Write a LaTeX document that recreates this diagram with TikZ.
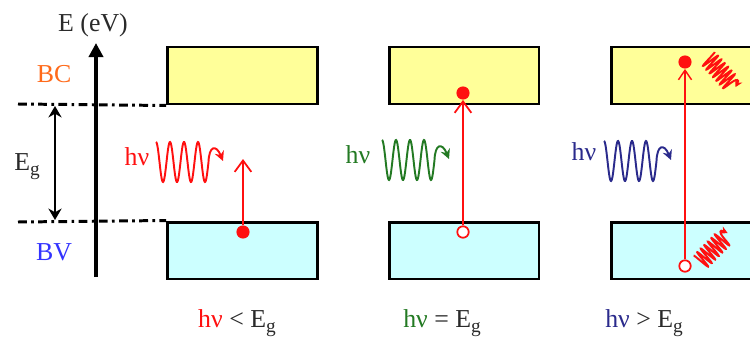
\documentclass[tikz,border=0pt]{standalone}
\usepackage{fontspec}
\setmainfont{Liberation Serif}
\usetikzlibrary{arrows.meta}
\definecolor{cbfill}{HTML}{FFFF99}
\definecolor{vbfill}{HTML}{CCFFFF}
\definecolor{bcorange}{HTML}{FF6A1A}
\definecolor{bvblue}{HTML}{3333FF}
\definecolor{wgreen}{HTML}{237A23}
\definecolor{wblue}{HTML}{2A2A8C}
\definecolor{txtgray}{HTML}{2A2A2A}
\definecolor{myred}{HTML}{FF1010}
\newcommand\Eg{E\raisebox{-0.45ex}{\fontsize{11}{11}\selectfont g}}
\tikzset{
  lbl/.style={font=\fontsize{14.7}{16}\selectfont, inner sep=0pt, anchor=base},
  band/.style={draw=black, line width=1.7pt, minimum width=3cm, minimum height=1.14cm, inner sep=0pt},
  cbband/.style={band, fill=cbfill},
  vbband/.style={band, fill=vbfill},
  edot/.style={circle, fill=myred, minimum size=7.5pt, inner sep=0pt},
  hole/.style={circle, draw=myred, fill=white, line width=1pt, minimum size=6.5pt, inner sep=0pt},
  exarrow/.style={draw=myred, line width=1pt, -{Straight Barb[length=6.5pt,width=9.5pt]}},
  dashdotline/.style={line width=1.7pt, dash pattern=on 5pt off 2.5pt on 1.5pt off 2.5pt},
  axisline/.style={line width=2.4pt, -{Triangle[length=8pt,width=8pt]}},
  gaparrow/.style={line width=1.1pt, {Stealth[length=6.5pt,width=7.5pt]}-{Stealth[length=6.5pt,width=7.5pt]}},
  pics/bigwave/.style={code={
    \draw[line width=1.1pt, -{Stealth[length=5.5pt,width=5.5pt]}]
      plot[domain=0:3.75, samples=120, smooth] ({14*\x},{-20*cos(360*\x)})
      .. controls (53,-16) and (60,-18) .. (67,-1);
  }},
  pics/smallwave/.style={code={
    \draw[line width=1.1pt, -{Stealth[length=4pt,width=4.5pt]}]
      plot[domain=0:6.75, samples=180, smooth] ({5*\x},{-9*cos(360*\x)})
      .. controls (34.5,-8) and (37,-9) .. (40,-1);
  }}
}
\begin{document}
\begin{tikzpicture}[x=0.02cm, y=-0.02cm]
\clip (0,0) rectangle (750,341);
\fill[white] (0,0) rectangle (750,341);

% axis
\coordinate (ax0) at (96,277);
\coordinate (ax1) at (96,43);
\node[lbl, text=txtgray] (elabel) at (93,32) {E (eV)};
\node[lbl, text=bcorange] (bc) at (54,83) {BC};
\node[lbl, text=bvblue] (bv) at (54,260) {BV};
\node[lbl, text=txtgray] (eg) at (27,170) {\Eg};

% bands
\node[cbband] (cb1) at (242.5,75.5) {};
\node[vbband] (vb1) at (242.5,250.5) {};
\node[cbband] (cb2) at (464,75.5) {};
\node[vbband] (vb2) at (464,250.5) {};
\node[cbband] (cb3) at (686,75.5) {};
\node[vbband] (vb3) at (686,250.5) {};

% dash-dot levels
\coordinate (d1) at (18,104);
\coordinate (d2) at (18,222);
\draw[dashdotline] (d1) -- (cb1.south west);
\draw[dashdotline] (d2) -- (vb1.north west);
\draw[axisline] (ax0) -- (ax1);
\coordinate (g1) at (55,106);
\coordinate (g2) at (55,220);
\draw[gaparrow] (g1) -- (g2);

% panel 1
\node[lbl, text=myred] (hv1) at (137,165) {hν};
\pic[myred] at (156,162) {bigwave};
\node[edot] (e1) at (243,232) {};
\coordinate (t1) at (243,159);
\draw[exarrow] (e1) -- (t1);

% panel 2
\node[lbl, text=wgreen] (hv2) at (358,163) {hν};
\pic[wgreen] at (382,160) {bigwave};
\node[hole] (h2) at (463,232) {};
\node[edot] (e2) at (463,93) {};
\draw[exarrow] (h2) -- (e2);

% panel 3
\node[lbl, text=wblue] (hv3) at (584,160) {hν};
\pic[wblue] at (604,161) {bigwave};
\node[hole] (h3) at (685,266) {};
\node[edot] (e3) at (685,62) {};
\draw[exarrow, line width=0.8pt, -{Straight Barb[length=5.5pt,width=7.5pt]}] (h3) -- (e3);
\pic[myred, rotate=-48] at (708,58) {smallwave};
\pic[myred, rotate=45] at (700,262) {smallwave};

% bottom labels
\node[lbl, text=txtgray] (c1) at (237,327) {\textcolor{myred}{hν} < \Eg};
\node[lbl, text=txtgray] (c2) at (442,327) {\textcolor{wgreen}{hν} = \Eg};
\node[lbl, text=txtgray] (c3) at (644,327) {\textcolor{wblue}{hν} > \Eg};
\end{tikzpicture}
\end{document}
